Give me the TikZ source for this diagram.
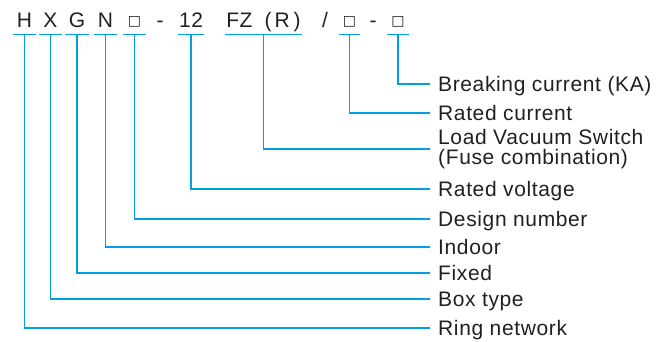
\documentclass[tikz,border=0pt]{standalone}
\usepackage{fontspec}
\setmainfont[LetterSpace=3]{Liberation Sans}
\newfontfamily\boxfont{DejaVu Sans}
\definecolor{linkblue}{RGB}{0,160,230}
\definecolor{txtgray}{RGB}{35,31,32}
\tikzset{
  code/.style={anchor=base,inner sep=0pt,text depth=7pt,font=\fontsize{21}{21}\selectfont,text=txtgray},
  label/.style={anchor=west,inner ysep=0pt,inner xsep=8pt,text height=15pt,text depth=0pt,font=\fontsize{21}{21}\selectfont,text=txtgray},
  lnk/.style={draw=linkblue,line width=1.4pt},
}
\newcommand{\sq}{\raisebox{1.5pt}{\boxfont\fontsize{14}{14}\selectfont □}}
\begin{document}
\begin{tikzpicture}[x=1pt,y=-1pt]
  \useasboundingbox (0,0) rectangle (665,341);
  % kod typu
  \node[code,minimum width=23pt] (cH) at (24.5,27) {H};
  \node[code,minimum width=23pt] (cX) at (50.5,27) {X};
  \node[code,minimum width=24pt] (cG) at (77,27) {G};
  \node[code,minimum width=23pt] (cN) at (105.5,27) {N};
  \node[code,minimum width=23pt] (cD) at (134.5,27) {\sq};
  \node[code] (dash1) at (160,27) {-};
  \node[code,minimum width=26pt] (cV) at (191,27) {12};
  \node[code,minimum width=77pt] (cF) at (263.5,27) {FZ\hspace{12pt}(\hspace{3pt}R\hspace{4pt})};
  \node[code] (slash) at (325,27) {/};
  \node[code,minimum width=21pt] (cI) at (349.5,27) {\sq};
  \node[code] (dash2) at (373,27) {-};
  \node[code,minimum width=22pt] (cK) at (398,27) {\sq};

  % podtrzeni
  \foreach \n in {cH,cX,cG,cN,cD,cV,cF,cI,cK}
    \draw[lnk] (\n.south west) -- (\n.south east);

  % popisky
  \node[label] (lK) at (430,84) {Breaking current (KA)};
  \node[label] (lI) at (430,113) {Rated current};
  \node[anchor=west,inner ysep=0pt,inner xsep=8pt,align=left,
        font=\fontsize{21}{20.5}\selectfont,text=txtgray] (lF) at (430,149)
        {Load Vacuum Switch\\(Fuse combination)};
  \node[label] (lV) at (430,189) {Rated voltage};
  \node[label] (lD) at (430,219) {Design number};
  \node[label] (lN) at (430,247) {Indoor};
  \node[label] (lG) at (430,273) {Fixed};
  \node[label] (lX) at (430,299) {Box type};
  \node[label] (lH) at (430,328) {Ring network};

  % spojnice
  \draw[lnk] (cK.south) |- (lK.west);
  \draw[lnk] (cI.south) |- (lI.west);
  \draw[lnk] (cF.south) |- (lF.west);
  \draw[lnk] (cV.south) |- (lV.west);
  \draw[lnk] (cD.south) |- (lD.west);
  \draw[lnk] (cN.south) |- (lN.west);
  \draw[lnk] (cG.south) |- (lG.west);
  \draw[lnk] (cX.south) |- (lX.west);
  \draw[lnk] (cH.south) |- (lH.west);
\end{tikzpicture}
\end{document}
